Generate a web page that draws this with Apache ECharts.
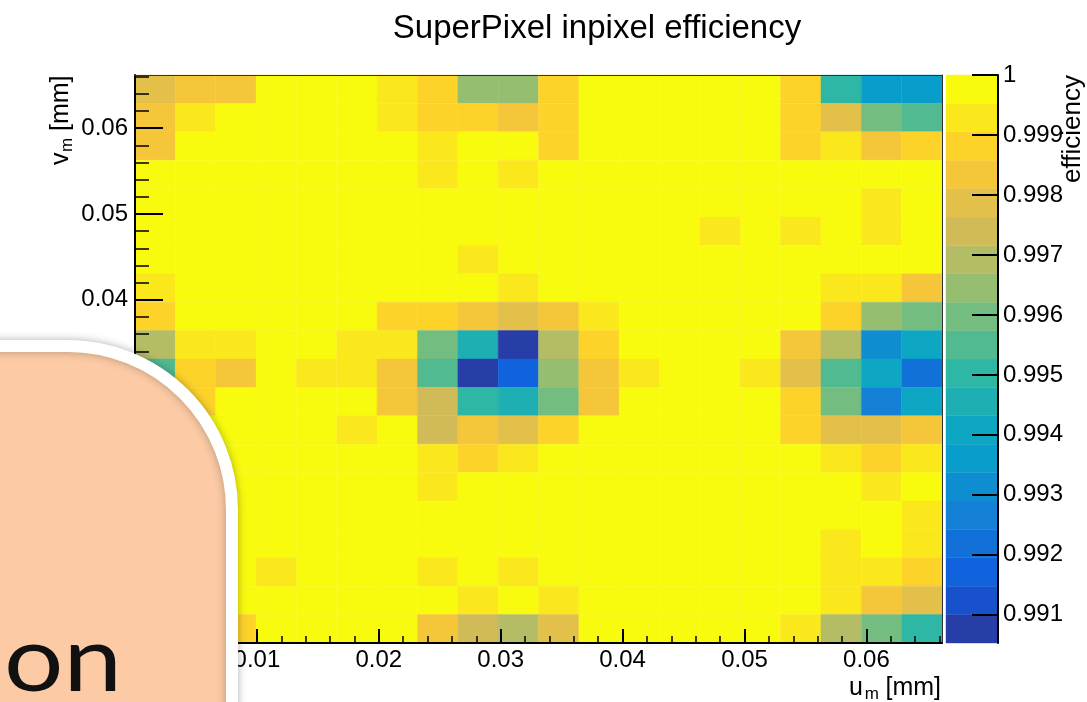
<!DOCTYPE html>
<html>
<head>
<meta charset="utf-8">
<script src="https://cdn.jsdelivr.net/npm/echarts@6/dist/echarts.min.js"></script>
<style>
  html, body { margin: 0; padding: 0; background: #fff; }
  #chart { width: 1087px; height: 702px; }
</style>
</head>
<body>
<div id="chart"></div>
<script>
// ---- binning of the super pixel (mm) ----
const U_RANGE = [0, 0.0662];
const V_RANGE = [0, 0.0662];
const N_BINS = 20;

// ---- colour scale ----
const Z_RANGE = [0.99053, 1.0];
const N_LEVELS = 20;

// ---- tick values ----
const U_TICKS = [0, 0.01, 0.02, 0.03, 0.04, 0.05, 0.06];
const V_TICKS = [0, 0.01, 0.02, 0.03, 0.04, 0.05, 0.06];
const Z_TICKS = [0.991, 0.992, 0.993, 0.994, 0.995, 0.996, 0.997, 0.998, 0.999, 1];
const MINOR_STEP = 0.002;

// ---- in-pixel efficiency, one row per v bin, from the top (largest v) down ----
const EFF_ROWS = [
  [0.9979, 0.9983, 0.9983, 0.9998, 0.9998, 0.9998, 0.9993, 0.9988, 0.9964, 0.9964, 0.9988, 0.9998, 0.9998, 0.9998, 0.9998, 0.9998, 0.9988, 0.9950, 0.9936, 0.9936],
  [0.9983, 0.9993, 0.9998, 0.9998, 0.9998, 0.9998, 0.9993, 0.9988, 0.9988, 0.9983, 0.9988, 0.9998, 0.9998, 0.9998, 0.9998, 0.9998, 0.9988, 0.9979, 0.9960, 0.9955],
  [0.9983, 0.9998, 0.9998, 0.9998, 0.9998, 0.9998, 0.9998, 0.9993, 0.9998, 0.9998, 0.9988, 0.9998, 0.9998, 0.9998, 0.9998, 0.9998, 0.9988, 0.9993, 0.9983, 0.9988],
  [0.9998, 0.9998, 0.9998, 0.9998, 0.9998, 0.9998, 0.9998, 0.9993, 0.9998, 0.9993, 0.9998, 0.9998, 0.9998, 0.9998, 0.9998, 0.9998, 0.9998, 0.9998, 0.9998, 0.9998],
  [0.9998, 0.9999, 0.9998, 0.9999, 0.9998, 0.9999, 0.9998, 0.9998, 0.9998, 0.9998, 0.9999, 0.9998, 0.9999, 0.9998, 0.9998, 0.9999, 0.9998, 0.9998, 0.9993, 0.9998],
  [0.9998, 0.9998, 0.9999, 0.9998, 0.9998, 0.9998, 0.9999, 0.9998, 0.9998, 0.9998, 0.9998, 0.9998, 0.9998, 0.9999, 0.9993, 0.9998, 0.9993, 0.9998, 0.9993, 0.9998],
  [0.9998, 0.9998, 0.9998, 0.9998, 0.9999, 0.9998, 0.9998, 0.9998, 0.9993, 0.9998, 0.9998, 0.9999, 0.9998, 0.9998, 0.9998, 0.9998, 0.9998, 0.9998, 0.9998, 0.9998],
  [0.9993, 0.9998, 0.9998, 0.9998, 0.9998, 0.9998, 0.9998, 0.9998, 0.9998, 0.9993, 0.9998, 0.9998, 0.9998, 0.9998, 0.9998, 0.9998, 0.9998, 0.9993, 0.9993, 0.9983],
  [0.9988, 0.9998, 0.9998, 0.9998, 0.9998, 0.9998, 0.9988, 0.9988, 0.9983, 0.9979, 0.9983, 0.9993, 0.9998, 0.9998, 0.9998, 0.9998, 0.9998, 0.9988, 0.9964, 0.9960],
  [0.9969, 0.9993, 0.9993, 0.9998, 0.9998, 0.9993, 0.9993, 0.9960, 0.9946, 0.9908, 0.9969, 0.9988, 0.9998, 0.9998, 0.9998, 0.9998, 0.9983, 0.9969, 0.9931, 0.9941],
  [0.9955, 0.9988, 0.9983, 0.9998, 0.9993, 0.9993, 0.9983, 0.9955, 0.9908, 0.9917, 0.9964, 0.9983, 0.9993, 0.9998, 0.9998, 0.9993, 0.9979, 0.9955, 0.9941, 0.9922],
  [0.9988, 0.9988, 0.9998, 0.9998, 0.9998, 0.9998, 0.9983, 0.9974, 0.9950, 0.9946, 0.9960, 0.9983, 0.9998, 0.9998, 0.9998, 0.9998, 0.9988, 0.9960, 0.9927, 0.9941],
  [0.9993, 0.9998, 0.9998, 0.9998, 0.9998, 0.9993, 0.9998, 0.9974, 0.9983, 0.9979, 0.9988, 0.9998, 0.9998, 0.9998, 0.9998, 0.9998, 0.9988, 0.9979, 0.9979, 0.9983],
  [0.9998, 0.9998, 0.9998, 0.9998, 0.9998, 0.9998, 0.9998, 0.9993, 0.9988, 0.9993, 0.9998, 0.9998, 0.9998, 0.9998, 0.9998, 0.9998, 0.9998, 0.9993, 0.9988, 0.9993],
  [0.9998, 0.9999, 0.9998, 0.9998, 0.9998, 0.9999, 0.9998, 0.9993, 0.9998, 0.9998, 0.9998, 0.9998, 0.9999, 0.9998, 0.9998, 0.9998, 0.9998, 0.9998, 0.9993, 0.9998],
  [0.9998, 0.9998, 0.9999, 0.9998, 0.9998, 0.9998, 0.9999, 0.9998, 0.9998, 0.9999, 0.9998, 0.9998, 0.9998, 0.9998, 0.9999, 0.9998, 0.9998, 0.9998, 0.9998, 0.9993],
  [0.9998, 0.9998, 0.9998, 0.9999, 0.9998, 0.9998, 0.9998, 0.9998, 0.9999, 0.9998, 0.9998, 0.9998, 0.9998, 0.9998, 0.9998, 0.9998, 0.9998, 0.9993, 0.9998, 0.9993],
  [0.9998, 0.9998, 0.9998, 0.9993, 0.9998, 0.9998, 0.9998, 0.9993, 0.9998, 0.9993, 0.9998, 0.9998, 0.9998, 0.9998, 0.9998, 0.9998, 0.9998, 0.9993, 0.9993, 0.9988],
  [0.9998, 0.9998, 0.9998, 0.9998, 0.9998, 0.9998, 0.9998, 0.9998, 0.9993, 0.9998, 0.9993, 0.9998, 0.9998, 0.9998, 0.9998, 0.9998, 0.9998, 0.9993, 0.9983, 0.9979],
  [0.9998, 0.9998, 0.9988, 0.9998, 0.9998, 0.9998, 0.9998, 0.9983, 0.9974, 0.9969, 0.9979, 0.9998, 0.9998, 0.9998, 0.9998, 0.9998, 0.9993, 0.9969, 0.9960, 0.9950]
];

// ---- ROOT "bird" palette ----
const BIRD_STOPS = [0.0, 0.125, 0.25, 0.375, 0.5, 0.625, 0.75, 0.875, 1.0];
const BIRD_R = [0.2082, 0.0592, 0.0780, 0.0232, 0.1802, 0.5301, 0.8186, 0.9956, 0.9764];
const BIRD_G = [0.1664, 0.3599, 0.5041, 0.6419, 0.7178, 0.7492, 0.7328, 0.7862, 0.9832];
const BIRD_B = [0.5293, 0.8684, 0.8385, 0.7914, 0.6425, 0.4662, 0.3499, 0.1968, 0.0539];

function birdColor(f) {
  let i = 0;
  while (i < BIRD_STOPS.length - 2 && f > BIRD_STOPS[i + 1]) i++;
  const t = (f - BIRD_STOPS[i]) / (BIRD_STOPS[i + 1] - BIRD_STOPS[i]);
  const ch = a => Math.round(255 * (a[i] + (a[i + 1] - a[i]) * t));
  return 'rgb(' + ch(BIRD_R) + ',' + ch(BIRD_G) + ',' + ch(BIRD_B) + ')';
}
// colour of contour level k, picked from a 255-entry palette as ROOT does
function levelColor(k) {
  const idx = Math.floor((k + 0.99) * 255 / N_LEVELS);
  return birdColor(idx / 254);
}

const FONT = '"Liberation Sans", Arial, Helvetica, sans-serif';
const binU = (U_RANGE[1] - U_RANGE[0]) / N_BINS;
const binV = (V_RANGE[1] - V_RANGE[0]) / N_BINS;
const dZ = (Z_RANGE[1] - Z_RANGE[0]) / N_LEVELS;

// cells: [u low edge, v low edge, efficiency]
const cells = [];
EFF_ROWS.forEach((row, r) => {
  row.forEach((eff, c) => {
    cells.push([U_RANGE[0] + c * binU, V_RANGE[1] - (r + 1) * binV, eff]);
  });
});

// colour bar bands: [low, high, centre]
const bands = [];
const pieces = [];
for (let k = 0; k < N_LEVELS; k++) {
  const lo = Z_RANGE[0] + k * dZ;
  const hi = Z_RANGE[0] + (k + 1) * dZ;
  bands.push([lo, hi, (lo + hi) / 2]);
  const p = { gte: k === 0 ? -Infinity : lo, color: levelColor(k) };
  if (k < N_LEVELS - 1) p.lt = hi; else p.lte = Infinity;
  pieces.push(p);
}

function minorTicks(range) {
  const out = [];
  for (let i = 0; range[0] + i * MINOR_STEP <= range[1] + 1e-12; i++) {
    out.push(+(range[0] + i * MINOR_STEP).toFixed(4));
  }
  return out;
}

const black = '#000';
const labelStyle = { color: black, fontFamily: FONT, fontSize: 24 };

const chart = echarts.init(document.getElementById('chart'), null, { renderer: 'canvas' });

const option = {
  animation: false,
  backgroundColor: '#fff',
  grid: [
    { left: 135, top: 75, width: 807, height: 568, containLabel: false },
    { left: 946, top: 75, width: 52, height: 568, containLabel: false }
  ],
  visualMap: {
    type: 'piecewise',
    show: false,
    dimension: 2,
    seriesIndex: [0, 1],
    pieces: pieces
  },
  xAxis: [
    { // u axis with labels and major ticks
      gridIndex: 0, type: 'value', min: U_RANGE[0], max: U_RANGE[1], position: 'bottom', z: 10,
      axisLine: { show: true, onZero: false, lineStyle: { color: black, width: 2 } },
      axisTick: { show: true, inside: true, length: 14, customValues: U_TICKS, lineStyle: { color: black, width: 2 } },
      axisLabel: Object.assign({ show: true, margin: 5, customValues: U_TICKS }, labelStyle),
      splitLine: { show: false }
    },
    { // u axis minor ticks
      gridIndex: 0, type: 'value', min: U_RANGE[0], max: U_RANGE[1], position: 'bottom', z: 10,
      axisLine: { show: false },
      axisTick: { show: true, inside: true, length: 7, customValues: minorTicks(U_RANGE), lineStyle: { color: black, width: 1.5 } },
      axisLabel: { show: false },
      splitLine: { show: false }
    },
    { // frame top edge
      gridIndex: 0, type: 'value', min: U_RANGE[0], max: U_RANGE[1], position: 'top', z: 10,
      axisLine: { show: true, onZero: false, lineStyle: { color: '#333', width: 1 } },
      axisTick: { show: false }, axisLabel: { show: false }, splitLine: { show: false }
    },
    { // colour bar horizontal extent
      gridIndex: 1, type: 'value', min: 0, max: 1, show: false
    }
  ],
  yAxis: [
    { // v axis with labels and major ticks
      gridIndex: 0, type: 'value', min: V_RANGE[0], max: V_RANGE[1], position: 'left', z: 10,
      axisLine: { show: true, onZero: false, lineStyle: { color: black, width: 2 } },
      axisTick: { show: true, inside: true, length: 28, customValues: V_TICKS, lineStyle: { color: black, width: 2 } },
      axisLabel: Object.assign({ show: true, margin: 7, customValues: V_TICKS }, labelStyle),
      splitLine: { show: false }
    },
    { // v axis minor ticks
      gridIndex: 0, type: 'value', min: V_RANGE[0], max: V_RANGE[1], position: 'left', z: 10,
      axisLine: { show: false },
      axisTick: { show: true, inside: true, length: 14, customValues: minorTicks(V_RANGE), lineStyle: { color: black, width: 1.5 } },
      axisLabel: { show: false },
      splitLine: { show: false }
    },
    { // frame right edge
      gridIndex: 0, type: 'value', min: V_RANGE[0], max: V_RANGE[1], position: 'right', z: 10,
      axisLine: { show: true, onZero: false, lineStyle: { color: '#333', width: 1 } },
      axisTick: { show: false }, axisLabel: { show: false }, splitLine: { show: false }
    },
    { // efficiency axis of the colour bar
      gridIndex: 1, type: 'value', min: Z_RANGE[0], max: Z_RANGE[1], position: 'right', z: 10,
      axisLine: { show: true, onZero: false, lineStyle: { color: black, width: 2 } },
      axisTick: { show: true, inside: true, length: 26, customValues: Z_TICKS, lineStyle: { color: black, width: 2 } },
      axisLabel: Object.assign({ show: true, margin: 5, customValues: Z_TICKS }, labelStyle),
      splitLine: { show: false }
    }
  ],
  series: [
    {
      type: 'custom',
      name: 'efficiency',
      xAxisIndex: 0,
      yAxisIndex: 0,
      data: cells,
      encode: { x: 0, y: 1 },
      renderItem: function (params, api) {
        const u0 = api.value(0), v0 = api.value(1);
        const p0 = api.coord([u0, v0 + binV]);
        const p1 = api.coord([u0 + binU, v0]);
        const color = api.visual('color');
        return {
          type: 'rect',
          shape: { x: p0[0], y: p0[1], width: p1[0] - p0[0], height: p1[1] - p0[1] },
          style: { fill: color, stroke: color, lineWidth: 0.4 }
        };
      }
    },
    {
      type: 'custom',
      name: 'palette',
      xAxisIndex: 3,
      yAxisIndex: 3,
      data: bands,
      encode: { y: [0, 1] },
      renderItem: function (params, api) {
        const lo = api.value(0), hi = api.value(1);
        const p0 = api.coord([0, hi]);
        const p1 = api.coord([1, lo]);
        const color = api.visual('color');
        return {
          type: 'rect',
          shape: { x: p0[0], y: p0[1], width: p1[0] - p0[0], height: p1[1] - p0[1] },
          style: { fill: color, stroke: color, lineWidth: 0.4 }
        };
      }
    }
  ],
  graphic: [
    { // histogram title
      type: 'text', x: 597, y: 29, z: 20,
      style: { text: 'SuperPixel inpixel efficiency', fill: black, fontFamily: FONT, fontSize: 33, align: 'center', verticalAlign: 'middle' }
    },
    { // u axis title
      type: 'group', x: 941, y: 688, z: 20,
      children: [
        { type: 'text', x: 0, y: 0, style: { text: '[mm]', fill: black, fontFamily: FONT, fontSize: 25, align: 'right', verticalAlign: 'middle' } },
        { type: 'text', x: -62, y: 6, style: { text: 'm', fill: black, fontFamily: FONT, fontSize: 17, align: 'right', verticalAlign: 'middle' } },
        { type: 'text', x: -78, y: 0, style: { text: 'u', fill: black, fontFamily: FONT, fontSize: 25, align: 'right', verticalAlign: 'middle' } }
      ]
    },
    { // v axis title
      type: 'group', x: 61, y: 165, rotation: Math.PI / 2, z: 20,
      children: [
        { type: 'text', x: 0, y: 0, style: { text: 'v', fill: black, fontFamily: FONT, fontSize: 25, align: 'left', verticalAlign: 'middle' } },
        { type: 'text', x: 13, y: 6, style: { text: 'm', fill: black, fontFamily: FONT, fontSize: 17, align: 'left', verticalAlign: 'middle' } },
        { type: 'text', x: 34, y: 0, style: { text: '[mm]', fill: black, fontFamily: FONT, fontSize: 25, align: 'left', verticalAlign: 'middle' } }
      ]
    },
    { // colour bar title
      type: 'text', x: 1073, y: 75, rotation: Math.PI / 2, z: 20,
      style: { text: 'efficiency', fill: black, fontFamily: FONT, fontSize: 26, align: 'right', verticalAlign: 'middle' }
    },
    { // slide card in front of the plot
      type: 'rect', z: 100,
      shape: { x: -200, y: 346, width: 432, height: 600, r: 164 },
      style: { fill: '#FCCBA5', stroke: '#fff', lineWidth: 12, shadowBlur: 10, shadowColor: 'rgba(0,0,0,0.28)' }
    },
    {
      type: 'text', x: 122, y: 661, z: 101, scaleX: 1.14,
      style: { text: 'on', fill: '#111', fontFamily: 'Lato, "Noto Sans", sans-serif', fontSize: 92, align: 'right', verticalAlign: 'middle' }
    }
  ]
};

chart.setOption(option);
</script>
</body>
</html>
